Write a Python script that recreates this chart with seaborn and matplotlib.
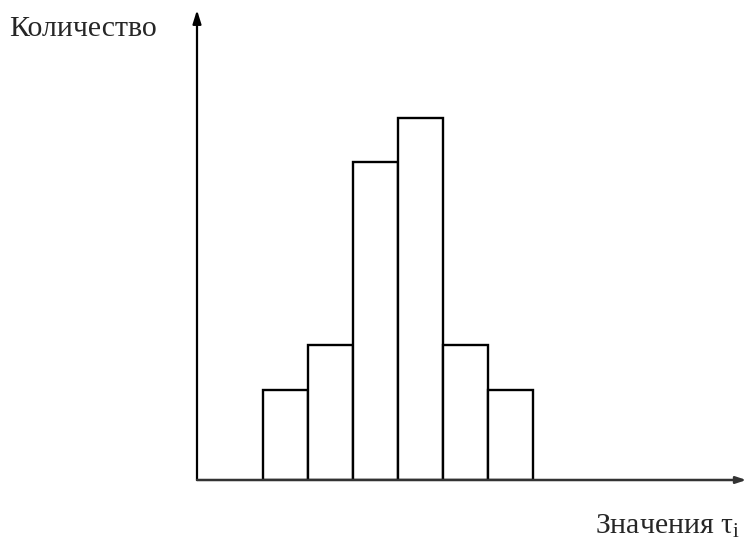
import matplotlib
matplotlib.use("Agg")
import matplotlib.pyplot as plt
import seaborn as sns
import pandas as pd

categories = ["1", "2", "3", "4", "5", "6"]
counts = [2, 3, 7.07, 8.04, 3, 2]

sns.set_style("white")
plt.rcParams["font.family"] = ["Liberation Serif", "DejaVu Serif"]
plt.rcParams["mathtext.fontset"] = "custom"
plt.rcParams["mathtext.rm"] = "Liberation Serif"
plt.rcParams["mathtext.it"] = "Liberation Serif:italic"

W, H = 748, 549
fig = plt.figure(figsize=(W / 100, H / 100), dpi=100)
# axes spanning pixel box x:197..748, y:10..480 (from top)
ax = fig.add_axes([197 / W, (H - 480) / H, (748 - 197) / W, (480 - 10) / H])

df = pd.DataFrame({"cat": categories, "val": counts})
sns.barplot(data=df, x="cat", y="val", ax=ax, color="white", edgecolor="black",
            linewidth=1.7, width=1.0, saturation=1)

unit = 45.0
x0 = -0.5 - (263 - 197) / unit
ax.set_xlim(x0, x0 + (748 - 197) / unit)
ax.set_ylim(0, (480 - 10) / unit)

for s in ax.spines.values():
    s.set_visible(False)
ax.set_xticks([])
ax.set_yticks([])
ax.set_xlabel("")
ax.set_ylabel("")

# axis arrows
ax.annotate("", xy=(0, 1.0), xytext=(0, 0), xycoords="axes fraction",
            arrowprops=dict(arrowstyle="-|>,head_length=0.8,head_width=0.25",
                            color="black", lw=1.6, shrinkA=0, shrinkB=0))
ax.annotate("", xy=(0.997, 0), xytext=(0, 0), xycoords="axes fraction",
            arrowprops=dict(arrowstyle="-|>,head_length=0.6,head_width=0.2",
                            color="#333333", lw=1.8, shrinkA=0, shrinkB=0))

fig.text(9 / W, 1 - 36 / H, "Количество", ha="left", va="baseline", fontsize=21.5)
fig.text(740 / W, 1 - 534 / H, r"Значения τ$_{\mathrm{i}}$", ha="right",
         va="baseline", fontsize=21.5)

fig.savefig("out.png", dpi=100)
